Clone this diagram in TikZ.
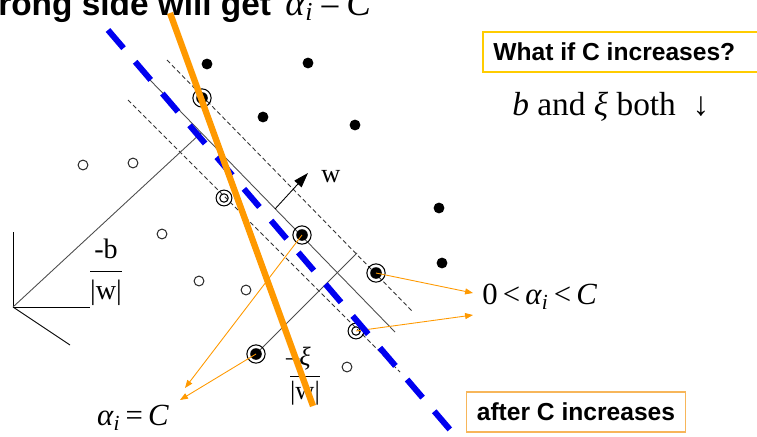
\documentclass[tikz,border=0pt]{standalone}
\usepackage{fontspec}
\setmainfont{Liberation Serif}
\newfontfamily\boxfont{Liberation Sans}
\usetikzlibrary{arrows.meta}
\definecolor{svmorange}{RGB}{255,153,0}
\definecolor{svmblue}{RGB}{0,0,240}
\definecolor{svmgold}{RGB}{255,204,0}
\definecolor{svmpeach}{RGB}{247,182,90}

\begin{document}
\begin{tikzpicture}[x=0.02cm, y=-0.02cm,
  sepline/.style={color=black!70, line width=0.5pt},
  margin/.style={color=black!80, line width=0.5pt, dash pattern=on 2.5pt off 1.6pt},
  pointer/.style={color=svmorange, line width=0.5pt, -{Triangle[length=4.5pt,width=3.4pt]}},
  sansbox/.style={draw, line width=0.9pt, font=\boxfont\bfseries\fontsize{14}{16}\selectfont, inner xsep=6pt, minimum height=0.8cm},
  mathlabel/.style={font=\fontsize{17.5}{20}\selectfont, inner sep=0pt}]
\useasboundingbox (0,0) rectangle (757,436);
\clip (0,0) rectangle (757,436);

% axes
\coordinate (origin) at (13,307);
\draw [color=black, line width=0.5pt] (13,232) -- (origin) -- (90,307);
\draw [color=black, line width=0.5pt] (origin) -- (70,345);

% support vectors
\coordinate (svtop) at (202,98);
\coordinate (svmid) at (302,235);
\coordinate (svedge) at (376,273);
\coordinate (svlow) at (256,354);
\coordinate (svin) at (224,198);
\coordinate (svout) at (356,331);

% hyperplane, margins
\coordinate (foot) at (201,133);
\coordinate (xitop) at (357,253);
\draw [sepline] (150,80) -- (395,332);
\draw [margin] (167,60) -- (413,312);
\draw [margin] (128,100) -- (400,372);
\draw [sepline] (origin) -- (foot);
\draw [sepline] (svlow) -- (xitop);
\draw [color=black, line width=0.5pt, -{Triangle[length=8.5pt,width=5.5pt]}] (275,209) -- (308,173);

% labels on the plot
\node (wlabel) [font=\fontsize{15}{17}\selectfont] at (331,177) {w};
\node (bfrac) [font=\fontsize{16}{18}\selectfont] at (106,272) {$\displaystyle\frac{\textrm{-b}}{\textrm{|w|}}$};
\node (xifrac) [font=\fontsize{15}{17}\selectfont] at (305,376) {$\displaystyle\frac{\llap{\textrm{--}}\textit{ξ}}{\textrm{|w|}}$};

% points
\fill [color=black] (207,64) circle (3.1pt);
\fill [color=black] (308,63) circle (3.1pt);
\fill [color=black] (263,117) circle (3.1pt);
\fill [color=black] (355,125) circle (3.1pt);
\fill [color=black] (439,208) circle (3.1pt);
\fill [color=black] (442,263) circle (3.1pt);
\draw [color=black!80, line width=0.6pt] (83,165) circle (2.8pt);
\draw [color=black!80, line width=0.6pt] (133,163) circle (2.8pt);
\draw [color=black!80, line width=0.6pt] (162,234) circle (2.8pt);
\draw [color=black!80, line width=0.6pt] (199,281) circle (2.8pt);
\draw [color=black!80, line width=0.6pt] (246,290) circle (2.8pt);
\draw [color=black!80, line width=0.6pt] (347,367) circle (2.8pt);
\fill [color=black] (svtop) circle (3.3pt);
\draw [color=black, line width=0.6pt] (svtop) circle (5.2pt);
\fill [color=black] (svmid) circle (3.3pt);
\draw [color=black, line width=0.6pt] (svmid) circle (5.2pt);
\fill [color=black] (svedge) circle (3.3pt);
\draw [color=black, line width=0.6pt] (svedge) circle (5.2pt);
\fill [color=black] (svlow) circle (3.3pt);
\draw [color=black, line width=0.6pt] (svlow) circle (5.2pt);
\draw [color=black, line width=0.6pt] (svin) circle (2.4pt);
\draw [color=black, line width=0.6pt] (svin) circle (4.5pt);
\draw [color=black, line width=0.6pt] (svout) circle (2.4pt);
\draw [color=black, line width=0.6pt] (svout) circle (4.5pt);

% pointers to the alpha labels
\coordinate (tipA) at (185,388);
\coordinate (tipB) at (180,400);
\coordinate (tipC) at (473,293);
\coordinate (tipD) at (473,315);
\draw [pointer] (svmid) -- (tipA);
\draw [pointer] (svlow) -- (tipB);
\draw [pointer] (svedge) -- (tipC);
\draw [pointer] (svout) -- (tipD);

% old and new separating lines
\draw [color=svmblue, line width=3.4pt, dash pattern=on 13.6pt off 10.2pt] (108,30) -- (452,432);
\draw [color=svmorange, line width=3.6pt] (170,13) -- (313,406);

% texts
\node (title) [anchor=base west, inner sep=0pt, font=\boxfont\bfseries\fontsize{19}{21}\selectfont] at (-2,15) {rong side will get};
\node (titlemath) [anchor=base west, inner sep=0pt, font=\fontsize{21}{23}\selectfont] at (285,15) {\textit{α}\textsubscript{\textit{i}}\,=\,\textit{C}};
\node (whatif) [sansbox, draw=svmgold, anchor=west] at (482,52) {\makebox[5.4cm][l]{What if C increases?}};
\node (shrink) [anchor=west, inner sep=0pt, font=\fontsize{19}{21}\selectfont] at (512,107) {\textit{b} and \textit{ξ} both\enspace↓};
\node (between) [mathlabel, anchor=west] at (482,297) {0\,<\,\textit{α}\textsubscript{\textit{i}}\,<\,\textit{C}};
\node (atbound) [mathlabel] at (133,418) {\textit{α}\textsubscript{\textit{i}}\,=\,\textit{C}};
\node (after) [sansbox, draw=svmpeach] at (576,412) {after C increases};
\end{tikzpicture}
\end{document}
